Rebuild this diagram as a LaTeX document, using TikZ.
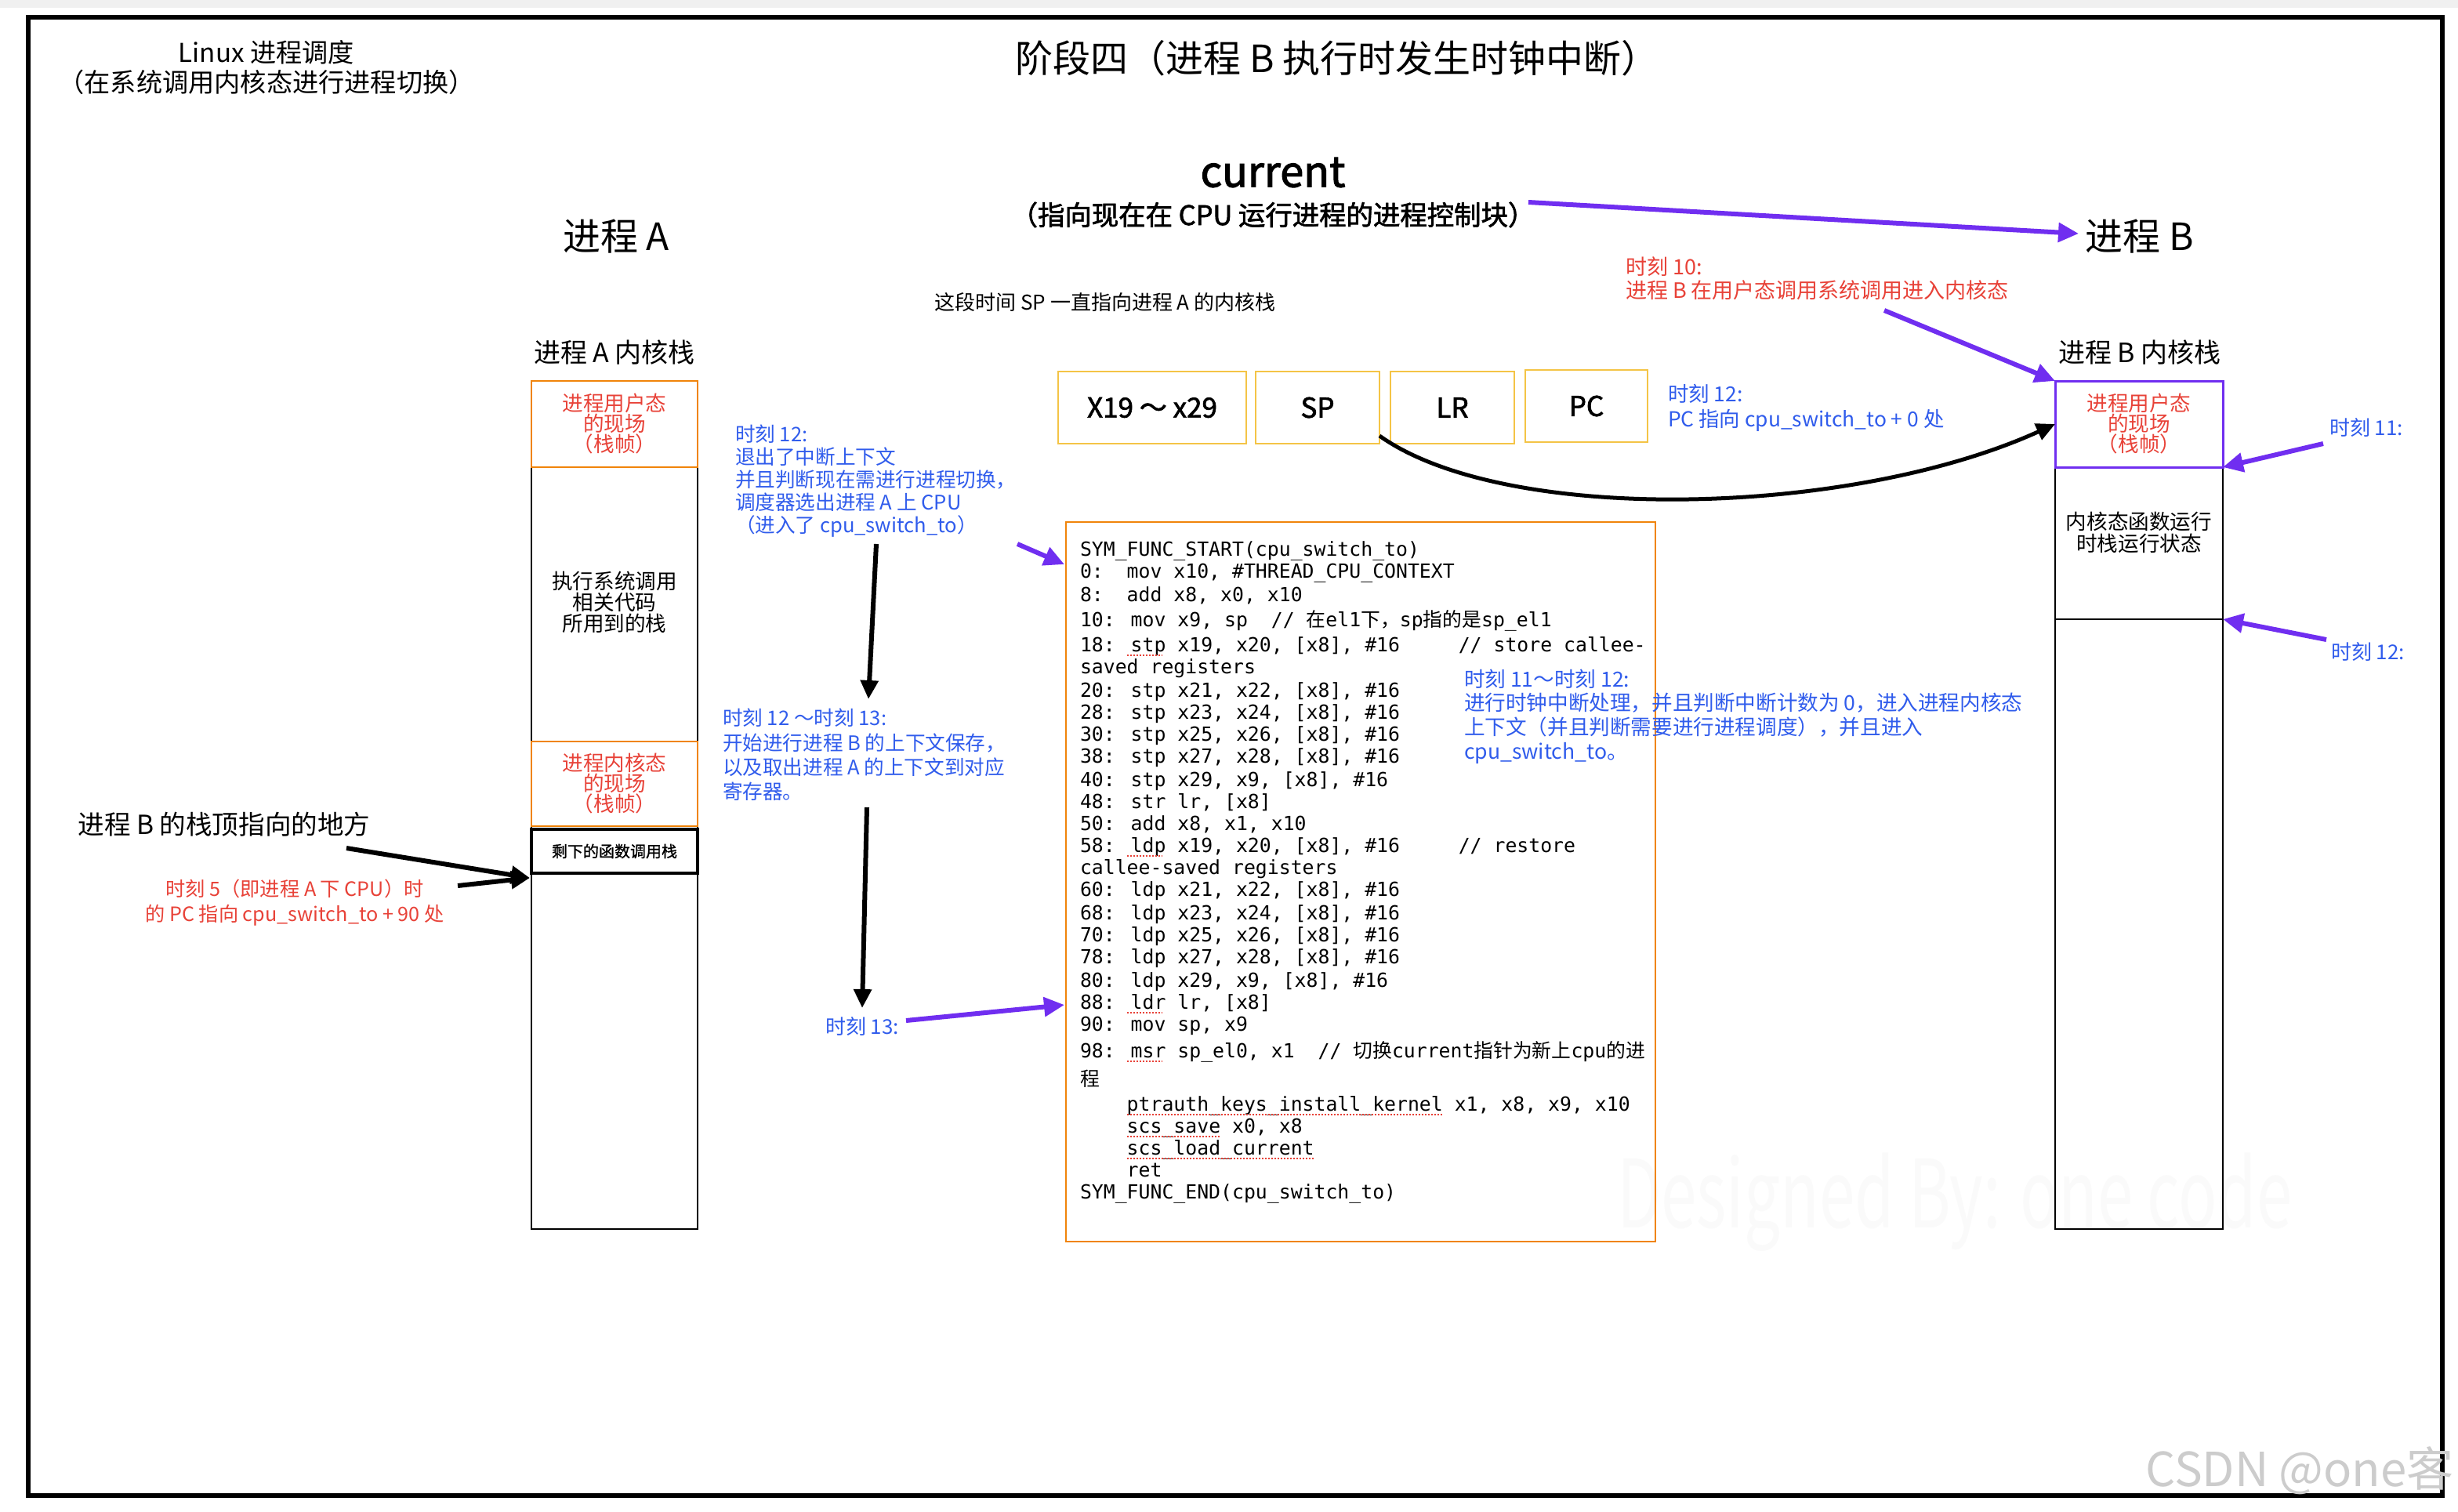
\documentclass[tikz,border=0pt]{standalone}
\usepackage{fontspec}
\setmainfont{Noto Sans CJK SC}
\newfontfamily\cjkf{Noto Sans CJK SC}
\newfontfamily\bcjk{Noto Sans CJK SC}[FakeBold=2]
\newfontfamily\mcjk{Noto Sans CJK SC}[FakeBold=1]
\newfontfamily\codefont{DejaVu Sans Mono}
\usetikzlibrary{arrows.meta,calc}
\definecolor{purp}{RGB}{112,46,240}
\definecolor{tblue}{RGB}{48,92,236}
\definecolor{tred}{RGB}{232,66,56}
\definecolor{orng}{RGB}{240,132,10}
\definecolor{ylw}{RGB}{244,196,70}
\newcommand\fsz[2]{\fontsize{#1}{#2}\selectfont}
\newcommand\cj[1]{{\cjkf #1}}
\newcommand\squig[3]{\draw[squig] ($(#1.base west)+(#2*7.465,2.6)$) -- ($(#1.base west)+(#3*7.465,2.6)$);}
\begin{document}
\begin{tikzpicture}[x=1pt,y=-1pt,
  every node/.style={inner sep=0pt,outer sep=0pt},
  parr/.style={draw=purp,line width=3pt,-{Triangle[length=13pt,width=12pt]}},
  barr/.style={draw=black,line width=3pt,-{Triangle[length=12pt,width=11pt]}},
  regbox/.style={draw=ylw,line width=1.3pt,minimum height=46pt,font=\bcjk\fsz{17.5}{18}},
  stkbox/.style={line width=1.3pt,minimum width=106pt},
  framelbl/.style={text=tred,align=center,font=\fsz{13.3}{13}},
  codeline/.style={anchor=base west,font=\codefont\fsz{12.4}{14}},
  bluetxt/.style={text=tblue,align=left,anchor=west},
  redtxt/.style={text=tred},
  squig/.style={draw=tred,line width=0.9pt,dash pattern=on 1pt off 1pt},
]
\fill[white] (0,0) rectangle (1568,964);
\fill[gray!12] (0,0) rectangle (1568,5);
\useasboundingbox (0,0) rectangle (1568,964);

% watermarks
\node[text=gray!4,font=\fsz{60}{60}] (wm) at (1247,767) {\scalebox{0.68}[1]{Designed By: one code}};

\draw[line width=3pt] (18,11) rectangle (1558,954);

% titles
\node[font=\fsz{24}{26}] (title) at (853,37) {阶段四（进程 B 执行时发生时钟中断）};
\node[align=center,font=\fsz{16.6}{19}] (linux) at (170,43) {Linux 进程调度\\（在系统调用内核态进行进程切换）};
\node[font=\bcjk\fsz{27}{28}] (cur) at (812,110) {current};
\node[font=\bcjk\fsz{17.2}{18}] (cursub) at (812,137) {（指向现在在 CPU 运行进程的进程控制块）};
\node[font=\fsz{24}{26}] (procA) at (393,151) {进程 A};
\node[font=\fsz{24}{26}] (procB) at (1365,151) {进程 B};
\node[font=\fsz{13}{14}] (spnote) at (705,193) {这段时间 SP 一直指向进程 A 的内核栈};
\node[redtxt,align=left,anchor=west,font=\fsz{13.5}{15}] (t10) at (1037,177.5) {时刻 10:\\进程 B 在用户态调用系统调用进入内核态};
\node[font=\fsz{17}{18}] (labA) at (392,225) {进程 A 内核栈};
\node[font=\fsz{17}{18}] (labB) at (1365,225) {进程 B 内核栈};

% stack A
\node[draw,stkbox,minimum height=541pt] (stackA) at (392,513.5) {};
\node[draw=orng,stkbox,minimum height=55pt,framelbl] (Auser) at (392,270.5) {\raisebox{-2pt}{\parbox{100pt}{\centering 进程用户态\\的现场\\（栈帧）}}};
\node[align=center,font=\fsz{13.3}{13.5}] (Amid) at (392,384) {执行系统调用\\相关代码\\所用到的栈};
\node[draw=orng,stkbox,minimum height=54pt,framelbl] (Akern) at (392,500) {\raisebox{-2pt}{\parbox{100pt}{\centering 进程内核态\\的现场\\（栈帧）}}};
\node[draw,stkbox,line width=1.6pt,minimum height=28pt,font=\mcjk\fsz{10}{10}] (Arest) at (392,543) {剩下的函数调用栈};

% stack B
\node[draw,stkbox,minimum width=107pt,minimum height=541pt] (stackB) at (1364.5,513.5) {};
\node[draw,stkbox,minimum width=107pt,minimum height=97pt] (Bmid) at (1364.5,346.5) {};
\node[draw=purp,stkbox,line width=1.5pt,minimum width=107pt,minimum height=55pt,framelbl] (Buser) at (1364.5,270.5) {\raisebox{-2pt}{\parbox{100pt}{\centering 进程用户态\\的现场\\（栈帧）}}};
\node[align=center,font=\fsz{13.3}{14}] (Btxt) at (1364.5,339.5) {内核态函数运行\\时栈运行状态};

% registers
\node[regbox,minimum width=120pt] (rX) at (735,260) {X19 ～ x29};
\node[regbox,minimum width=79pt] (rSP) at (840.5,260) {SP};
\node[regbox,minimum width=79pt] (rLR) at (926.5,260) {LR};
\node[regbox,minimum width=78pt] (rPC) at (1012,259) {PC};

\node[bluetxt,font=\fsz{13.2}{16}] (t12pc) at (1064,260) {时刻 12:\\PC 指向 cpu\_switch\_to + 0 处};
\node[bluetxt,font=\fsz{13}{14}] (t11) at (1486,273) {时刻 11:};
\node[bluetxt,font=\fsz{13}{14}] (t12r) at (1487,416) {时刻 12:};

\node[bluetxt,font=\fsz{12.8}{14.5}] (blA) at (469,307) {时刻 12:\\退出了中断上下文\\并且判断现在需进行进程切换，\\调度器选出进程 A 上 CPU\\（进入了 cpu\_switch\_to）};
\node[bluetxt,font=\fsz{12.8}{15.7}] (blB) at (461,481.5) {时刻 12 ～时刻 13:\\开始进行进程 B 的上下文保存，\\以及取出进程 A 的上下文到对应\\寄存器。};
\node[text=tblue,font=\fsz{13}{14}] (t13) at (550,655) {时刻 13:};

% code box
\node[draw=orng,line width=1.3pt,minimum width=376pt,minimum height=459pt] (code) at (868,562.5) {};
\node[codeline] (c0) at (689,354.5) {SYM\_FUNC\_START(cpu\_switch\_to)};
\node[codeline] (c1) at (689,368.5) {0:\ \ mov x10, \#THREAD\_CPU\_CONTEXT};
\node[codeline] (c2) at (689,383.5) {8:\ \ add x8, x0, x10};
\node[codeline] (c3) at (689,399.5) {10: mov x9, sp\ \ // \cj{在}el1\cj{下，}sp\cj{指的是}sp\_el1};
\node[codeline] (c4) at (689,415.5) {18: stp x19, x20, [x8], \#16\ \ \ \ \ // store callee-};
\node[codeline] (c5) at (689,429.5) {saved registers};
\node[codeline] (c6) at (689,444.5) {20: stp x21, x22, [x8], \#16};
\node[codeline] (c7) at (689,458.5) {28: stp x23, x24, [x8], \#16};
\node[codeline] (c8) at (689,472.5) {30: stp x25, x26, [x8], \#16};
\node[codeline] (c9) at (689,486.5) {38: stp x27, x28, [x8], \#16};
\node[codeline] (c10) at (689,501.5) {40: stp x29, x9, [x8], \#16};
\node[codeline] (c11) at (689,515.5) {48: str lr, [x8]};
\node[codeline] (c12) at (689,529.5) {50: add x8, x1, x10};
\node[codeline] (c13) at (689,543.5) {58: ldp x19, x20, [x8], \#16\ \ \ \ \ // restore};
\node[codeline] (c14) at (689,557.5) {callee-saved registers};
\node[codeline] (c15) at (689,571.5) {60: ldp x21, x22, [x8], \#16};
\node[codeline] (c16) at (689,586.5) {68: ldp x23, x24, [x8], \#16};
\node[codeline] (c17) at (689,600.5) {70: ldp x25, x26, [x8], \#16};
\node[codeline] (c18) at (689,614.5) {78: ldp x27, x28, [x8], \#16};
\node[codeline] (c19) at (689,629.5) {80: ldp x29, x9, [x8], \#16};
\node[codeline] (c20) at (689,643.5) {88: ldr lr, [x8]};
\node[codeline] (c21) at (689,657.5) {90: mov sp, x9};
\node[codeline] (c22) at (689,674.5) {98: msr sp\_el0, x1\ \ // \cj{切换}current\cj{指针为新上}cpu\cj{的进}};
\node[codeline] (c23) at (689,692.5) {\cj{程}};
\node[codeline] (c24) at (689,708.5) {\ \ \ \ ptrauth\_keys\_install\_kernel x1, x8, x9, x10};
\node[codeline] (c25) at (689,722.5) {\ \ \ \ scs\_save x0, x8};
\node[codeline] (c26) at (689,736.5) {\ \ \ \ scs\_load\_current};
\node[codeline] (c27) at (689,750.5) {\ \ \ \ ret};
\node[codeline] (c28) at (689,764.5) {SYM\_FUNC\_END(cpu\_switch\_to)};
\squig{c4}{4}{7}
\squig{c13}{4}{7}
\squig{c20}{4}{7}
\squig{c22}{4}{7}
\squig{c24}{4}{31}
\squig{c25}{4}{12}
\squig{c26}{4}{20}

\node[bluetxt,font=\fsz{13.3}{15.3}] (blC) at (934,457) {时刻 11～时刻 12:\\进行时钟中断处理，并且判断中断计数为 0，进入进程内核态\\上下文（并且判断需要进行进程调度），并且进入\\cpu\_switch\_to。};

\node[font=\fsz{16.8}{18}] (sttop) at (143,526) {进程 B 的栈顶指向的地方};
\node[redtxt,align=center,font=\fsz{12.6}{16}] (t5) at (188,576) {时刻 5（即进程 A 下 CPU）时\\的 PC 指向 cpu\_switch\_to + 90 处};

\node[text=gray!40,font=\fsz{30}{30}] (csdn) at (1467,938) {CSDN @one客};

% connectors
\coordinate (a1s) at (975,129); \coordinate (a1e) at (1326,149);
\draw[parr] (a1s) -- (a1e);
\coordinate (a2s) at (1202,198);
\draw[parr] (a2s) -- (Buser.north west);
\coordinate (a3s) at (1482,283);
\draw[parr] (a3s) -- (Buser.south east);
\coordinate (a4s) at (1484,408);
\draw[parr] (a4s) -- (Bmid.south east);
\coordinate (a5s) at (649,347); \coordinate (a5e) at (679,360);
\draw[parr] (a5s) -- (a5e);
\coordinate (a6s) at (559,347); \coordinate (a6e) at (554,446);
\draw[barr] (a6s) -- (a6e);
\coordinate (a7s) at (553,515); \coordinate (a7e) at (550,643);
\draw[barr] (a7s) -- (a7e);
\coordinate (a8s) at (578,651); \coordinate (a8e) at (679,641);
\draw[parr] (a8s) -- (a8e);
\coordinate (tipA) at (338,560);
\coordinate (a9s) at (221,541); \coordinate (a10s) at (292,565);
\draw[barr] (a9s) -- (tipA);
\draw[barr] (a10s) -- (tipA);
\draw[line width=2.5pt,-{Triangle[length=12pt,width=11pt]}] ([yshift=5pt]rSP.south east) .. controls (960,335) and (1180,330) .. (Buser.west);
\end{tikzpicture}
\end{document}
